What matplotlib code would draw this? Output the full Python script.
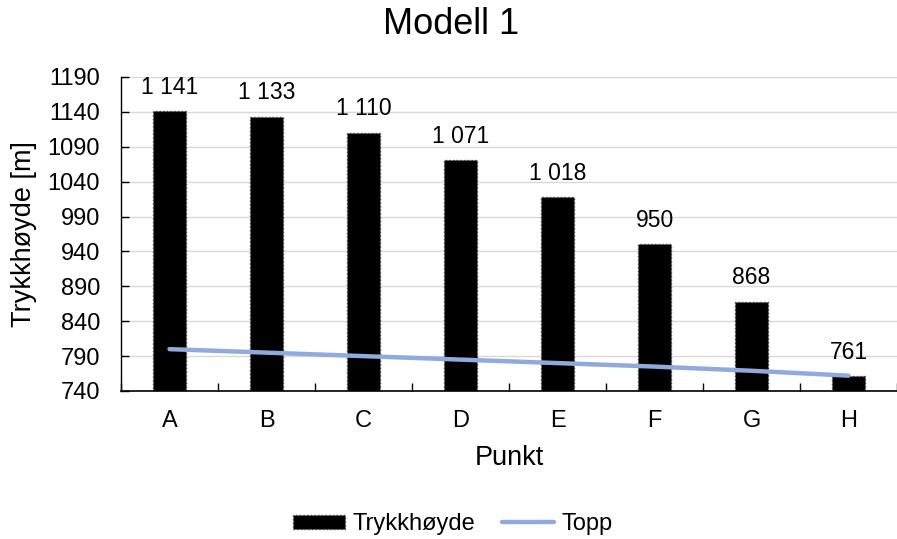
import numpy as np
from matplotlib import pyplot as plt

plt.rcParams['font.family'] = ['Liberation Sans', 'DejaVu Sans']

punkt = ['A', 'B', 'C', 'D', 'E', 'F', 'G', 'H']
trykkhoyde = [1141, 1133, 1110, 1071, 1018, 950, 868, 761]
topp = [800, 795, 790, 785, 780, 775, 769, 762]
labels = ['1 141', '1 133', '1 110', '1 071', '1 018', '950', '868', '761']

fig = plt.figure(figsize=(8.97, 5.39), dpi=100)
ax = fig.add_axes([121/897, 1 - 391/539, (897-121)/897, (391-77)/539])

x = np.arange(len(punkt))
bars = ax.bar(x, np.array(trykkhoyde) - 740, bottom=740, width=0.33, color='black',
              edgecolor='#404040', linestyle=':', linewidth=1, label='Trykkhøyde', zorder=2)
line, = ax.plot(x, topp, color='#8FAADC', linewidth=3.2, solid_capstyle='round',
                label='Topp', zorder=3)

for xi, v, s in zip(x, trykkhoyde, labels):
    ax.annotate(s, (xi, v), xytext=(0, 9), textcoords='offset points',
                ha='center', va='bottom', fontsize=16.5)

ax.set_ylim(740, 1190)
ax.set_yticks(np.arange(740, 1191, 50))
ax.set_xlim(-0.5, 7.5 - 9/98)
ax.set_xticks(x)
ax.set_xticklabels(punkt)
ax.set_xticks(np.arange(-0.5, 8, 1), minor=True)
ax.tick_params(axis='x', which='major', length=0, labelsize=17, pad=14)
ax.tick_params(axis='x', which='minor', length=6, direction='in', width=1)
ax.tick_params(axis='y', length=6, direction='in', width=1, labelsize=17, pad=15)
ax.grid(axis='y', color='#D9D9D9', linewidth=1, zorder=0)
ax.set_axisbelow(True)
for side in ['right', 'top']:
    ax.spines[side].set_visible(False)
ax.spines['bottom'].set_linewidth(1.2)
ax.spines['left'].set_linewidth(1.0)

ax.set_xlabel('Punkt', fontsize=19.5, labelpad=9)
ax.set_ylabel('Trykkhøyde [m]', fontsize=19.5)
ax.yaxis.set_label_coords(-(121 - 37) / 776, 0.5)
fig.text(0.503, 1 - 25/539, 'Modell 1', ha='center', va='center', fontsize=26)

fig.legend([bars, line], ['Trykkhøyde', 'Topp'], loc='center',
           bbox_to_anchor=(0.505, 1 - 524/539), ncol=2, frameon=False,
           fontsize=17, handlelength=2.2, handleheight=0.55, columnspacing=1.15,
           handletextpad=0.3)

fig.savefig('out.png')
